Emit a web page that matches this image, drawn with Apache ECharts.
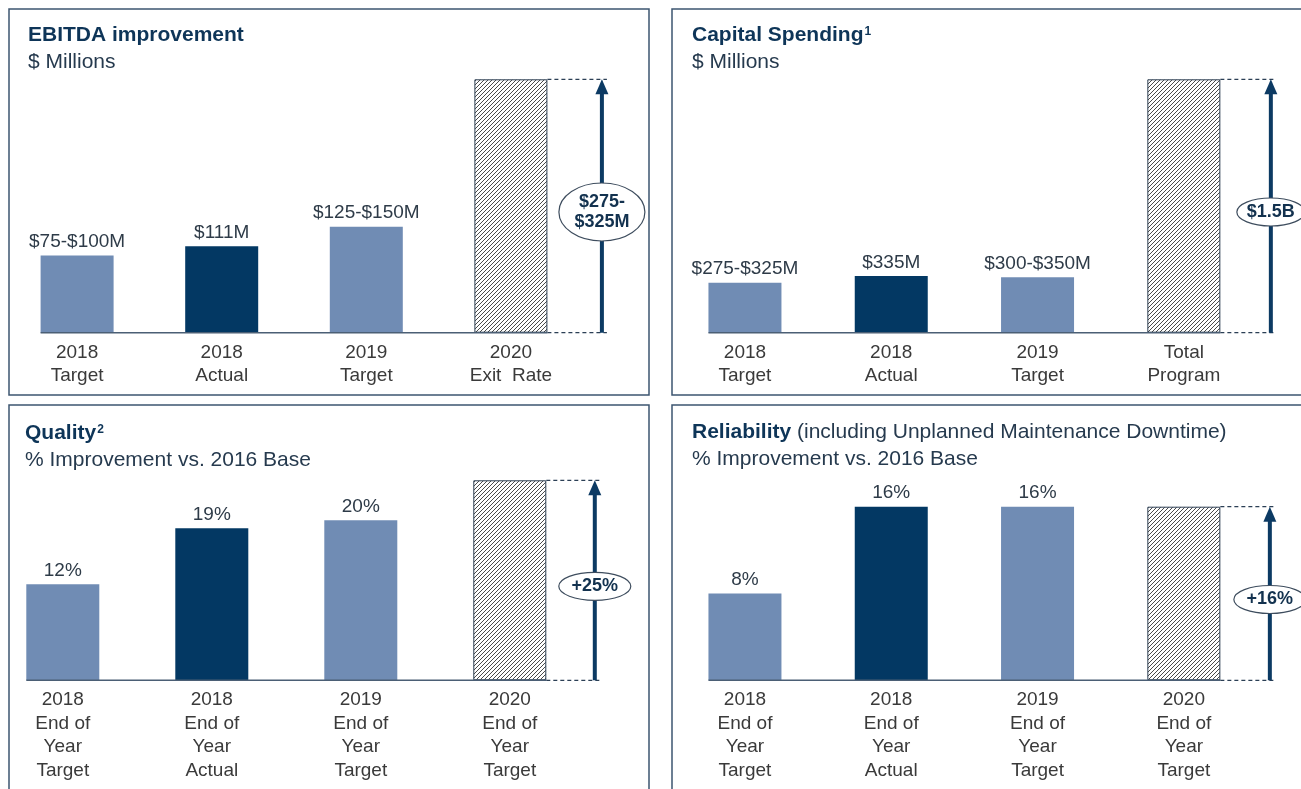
<!DOCTYPE html>
<html>
<head>
<meta charset="utf-8">
<title>Performance targets</title>
<script src="https://cdn.jsdelivr.net/npm/echarts@6/dist/echarts.min.js"></script>
<style>
  html, body { margin: 0; padding: 0; background: #fff; }
  #main { width: 1301px; height: 789px; }
</style>
</head>
<body>
<div id="main"></div>
<script>
// ---- data ----
var ebitdaCats = ['2018\nTarget', '2018\nActual', '2019\nTarget', '2020\nExit  Rate'];
var ebitdaValues = [99, 111, 136, 325];
var ebitdaLabels = ['$75-$100M', '$111M', '$125-$150M', ''];

var capexCats = ['2018\nTarget', '2018\nActual', '2019\nTarget', 'Total\nProgram'];
var capexValues = [296, 335, 328, 1500];
var capexLabels = ['$275-$325M', '$335M', '$300-$350M', ''];

var qualityCats = ['2018\nEnd of\nYear\nTarget', '2018\nEnd of\nYear\nActual', '2019\nEnd of\nYear\nTarget', '2020\nEnd of\nYear\nTarget'];
var qualityValues = [12, 19, 20, 25];
var qualityLabels = ['12%', '19%', '20%', ''];

var reliabilityCats = ['2018\nEnd of\nYear\nTarget', '2018\nEnd of\nYear\nActual', '2019\nEnd of\nYear\nTarget', '2020\nEnd of\nYear\nTarget'];
var reliabilityValues = [8, 16, 16, 16];
var reliabilityLabels = ['8%', '16%', '16%', ''];

var goalLabels = ['$275-\n$325M', '$1.5B', '+25%', '+16%'];

// ---- look ----
var FONT = '"Liberation Sans", Arial, sans-serif';
var LIGHT = '#708cb4';
var DARK = '#033863';
var NAVY = '#0c3a63';
var TEXT = '#3a3a3a';

// hatch tile for the target bars
function hatchTile() {
  var c = document.createElement('canvas');
  c.width = 4; c.height = 4;
  var g = c.getContext('2d');
  g.fillStyle = '#ffffff';
  g.fillRect(0, 0, 4, 4);
  g.strokeStyle = '#4a4a4a';
  g.lineWidth = 1;
  g.beginPath();
  g.moveTo(0, 4); g.lineTo(4, 0);
  g.moveTo(-1, 1); g.lineTo(1, -1);
  g.moveTo(3, 5); g.lineTo(5, 3);
  g.stroke();
  return c;
}
var hatch = { image: hatchTile(), repeat: 'repeat' };

var panels = [
  { cats: ebitdaCats, values: ebitdaValues, labels: ebitdaLabels,
    title: '{b|EBITDA improvement}', sub: '$ Millions',
    box: [9, 9, 640, 386], titlePos: [28, 23.5],
    grid: { left: 4.8, width: 578.4, top: 79.3, height: 253.4 },
    arrowDx: 91, ell: [43, 29] },
  { cats: capexCats, values: capexValues, labels: capexLabels,
    title: '{b|Capital Spending}{s|1}', sub: '$ Millions',
    box: [672, 9, 660, 386], titlePos: [692, 23.5],
    grid: { left: 671.8, width: 585.2, top: 79.3, height: 253.4 },
    arrowDx: 87, ell: [34, 14] },
  { cats: qualityCats, values: qualityValues, labels: qualityLabels,
    title: '{b|Quality}{s|2}', sub: '% Improvement vs. 2016 Base',
    box: [9, 405, 640, 420], titlePos: [25, 421.5],
    grid: { left: -11.7, width: 596, top: 480.3, height: 200 },
    arrowDx: 85, ell: [36, 14] },
  { cats: reliabilityCats, values: reliabilityValues, labels: reliabilityLabels,
    title: '{b|Reliability}{n| (including Unplanned Maintenance Downtime)}', sub: '% Improvement vs. 2016 Base',
    box: [672, 405, 660, 420], titlePos: [692, 420.5],
    grid: { left: 671.8, width: 585.2, top: 506.7, height: 173.6 },
    arrowDx: 86, ell: [36, 14] }
];
var BAR_W = 73;

var titleRich = {
  b: { fontFamily: FONT, fontSize: 21, fontWeight: 'bold', color: '#0e3558', lineHeight: 23 },
  s: { fontFamily: FONT, fontSize: 12, fontWeight: 'bold', color: '#0e3558', lineHeight: 14,
       verticalAlign: 'top', padding: [2, 0, 0, 1] },
  n: { fontFamily: FONT, fontSize: 21, fontWeight: 'normal', color: '#263a4e', lineHeight: 23 }
};

var option = {
  animation: false,
  backgroundColor: '#ffffff',
  title: panels.map(function (p) {
    return {
      text: p.title, subtext: p.sub,
      left: p.titlePos[0], top: p.titlePos[1], padding: 0, itemGap: 4,
      textStyle: { rich: titleRich, fontSize: 21, lineHeight: 23 },
      subtextStyle: { fontFamily: FONT, fontSize: 21, color: '#263a4e', lineHeight: 23 }
    };
  }),
  grid: panels.map(function (p) {
    return Object.assign({ outerBoundsMode: 'none', containLabel: false }, p.grid);
  }),
  xAxis: panels.map(function (p, i) {
    return {
      type: 'category', gridIndex: i, data: p.cats,
      axisLine: { show: false }, axisTick: { show: false },
      axisLabel: { interval: 0, margin: 8, fontFamily: FONT, fontSize: 19, lineHeight: 23.5, color: TEXT }
    };
  }),
  yAxis: panels.map(function (p, i) {
    return { type: 'value', gridIndex: i, min: 0, max: p.values[3], show: false, splitLine: { show: false } };
  }),
  series: panels.map(function (p, i) {
    return {
      type: 'bar', xAxisIndex: i, yAxisIndex: i, barWidth: BAR_W,
      data: p.values.map(function (v, k) {
        if (k === 3) {
          return { value: v, itemStyle: { color: hatch, borderColor: '#2c3e52', borderWidth: 1 } };
        }
        return { value: v, itemStyle: { color: k === 1 ? DARK : LIGHT } };
      }),
      label: {
        show: true, position: 'top', distance: 4,
        fontFamily: FONT, fontSize: 19, color: '#2e3b48',
        formatter: function (params) { return p.labels[params.dataIndex]; }
      }
    };
  })
};

var chart = echarts.init(document.getElementById('main'), null, { renderer: 'canvas' });
chart.setOption(option);

// frames, baselines, dashed guides and the target arrows
var els = [];
panels.forEach(function (p, i) {
  els.push({ type: 'rect', z: 1, silent: true,
    shape: { x: p.box[0], y: p.box[1], width: p.box[2], height: p.box[3] },
    style: { fill: null, stroke: '#3d5670', lineWidth: 1.5 } });

  var topPt = chart.convertToPixel({ gridIndex: i }, [3, p.values[3]]);
  var basePt = chart.convertToPixel({ gridIndex: i }, [0, 0]);
  var half = BAR_W / 2;
  var xL = basePt[0] - half, xR = topPt[0] + half;
  var y0 = basePt[1], yT = topPt[1];
  var ax = topPt[0] + p.arrowDx;

  els.push({ type: 'line', z: 10, silent: true,
    shape: { x1: xL, y1: y0, x2: xR, y2: y0 },
    style: { stroke: '#4b5f75', lineWidth: 1.5 } });
  [yT, y0].forEach(function (y) {
    els.push({ type: 'line', z: 10, silent: true,
      shape: { x1: xR, y1: y, x2: ax + 5, y2: y },
      style: { stroke: '#2b3f55', lineWidth: 1.2, lineDash: [4, 3] } });
  });
  els.push({ type: 'line', z: 11, silent: true,
    shape: { x1: ax, y1: y0, x2: ax, y2: yT + 10 },
    style: { stroke: NAVY, lineWidth: 4 } });
  els.push({ type: 'polygon', z: 11, silent: true,
    shape: { points: [[ax, yT], [ax - 6.5, yT + 15], [ax + 6.5, yT + 15]] },
    style: { fill: NAVY } });

  var cy = (y0 + yT) / 2 + 6;
  els.push({ type: 'ellipse', z: 12, silent: true,
    shape: { cx: ax, cy: cy, rx: p.ell[0], ry: p.ell[1] },
    style: { fill: '#ffffff', stroke: '#3e4d5e', lineWidth: 1.2 } });
  els.push({ type: 'text', z: 13, silent: true,
    style: { text: goalLabels[i], x: ax, y: cy, textAlign: 'center', textVerticalAlign: 'middle',
      font: 'bold 18px ' + FONT, lineHeight: 20, fill: '#13324f' } });
});
chart.setOption({ graphic: { elements: els } });
</script>
</body>
</html>
